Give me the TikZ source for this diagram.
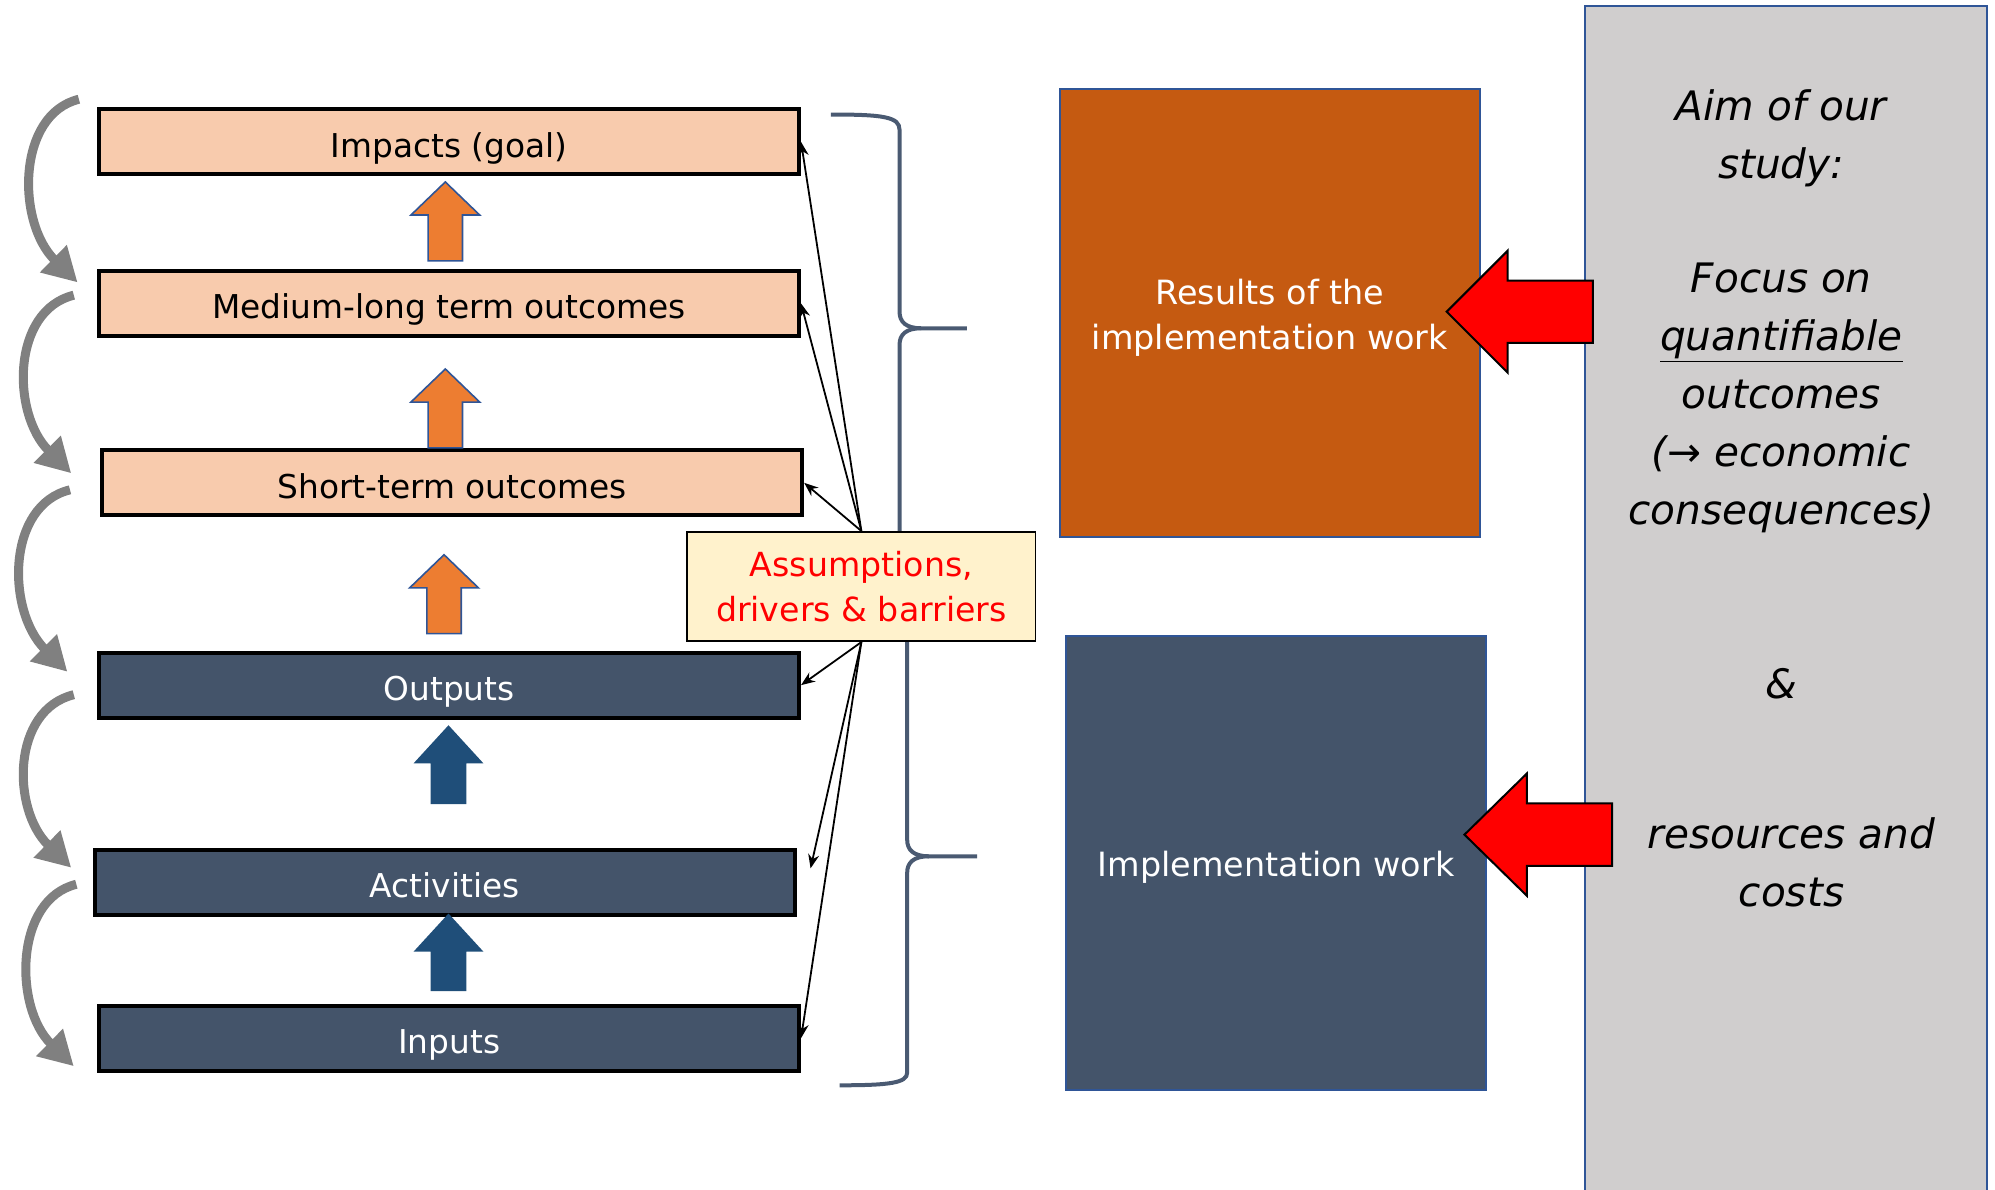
\documentclass[tikz,border=0pt]{standalone}
\usepackage{fontspec}
\setmainfont{DejaVu Sans}
\usetikzlibrary{arrows.meta,calc}
\definecolor{peach}{HTML}{F8CBAD}
\definecolor{slate}{HTML}{44546A}
\definecolor{orarrow}{HTML}{ED7D31}
\definecolor{blarrow}{HTML}{1F4E79}
\definecolor{resbox}{HTML}{C55A11}
\definecolor{panelgray}{HTML}{D0CECE}
\definecolor{assumfill}{HTML}{FFF2CC}
\definecolor{edgeblue}{HTML}{2F5597}
\definecolor{bracecol}{HTML}{4A5A72}
\definecolor{curvegray}{HTML}{808080}
\def\uu{0.63615pt}
\begin{document}
\begin{tikzpicture}[x=0.63615pt,y=-0.63615pt,
  chainbox/.style={draw=black,line width=2pt,minimum width={550*\uu},minimum height={51*\uu},inner sep=0pt,text height=15.4pt,text depth=0pt,font=\fontsize{16.4pt}{20pt}\selectfont},
  lightbox/.style={chainbox,fill=peach,text=black},
  darkbox/.style={chainbox,fill=slate,text=white},
  orblk/.style={fill=orarrow,draw=edgeblue,line width=0.8pt},
  blblk/.style={fill=blarrow,draw=none},
  redblk/.style={fill=red,draw=black,line width=1pt},
  loopback/.style={draw=curvegray,line width=4.5pt,-{Triangle[length=17pt,width=18pt]}},
  thinarr/.style={draw=black,line width=0.9pt,-{Stealth[length=7pt,width=5.5pt]}},
  bracepath/.style={draw=bracecol,line width=2pt},
  bigbox/.style={draw=edgeblue,line width=0.9pt,text=white,inner sep=0pt,align=center,font=\fontsize{16.7pt}{22.3pt}\selectfont},
  paneltext/.style={align=center,inner sep=0pt,font=\fontsize{20.3pt}{29pt}\selectfont\itshape}
]
\useasboundingbox (0,0) rectangle (1568,935);

% braces (drawn first, box hides the join)
\draw[bracepath] (653,90) .. controls (695,90) and (707,92) .. (707,102) -- (707,245)
  .. controls (707,253) and (712,258) .. (724,258) -- (760,258);
\draw[bracepath] (724,258) .. controls (712,258) and (707,263) .. (707,271) -- (707,440);
\draw[bracepath] (713,480) -- (713,660) .. controls (713,668) and (718,673) .. (730,673) -- (768,673);
\draw[bracepath] (730,673) .. controls (718,673) and (713,678) .. (713,686) -- (713,843)
  .. controls (713,851) and (700,853) .. (660,853);

% left chain boxes
\node[lightbox] (imp) at (353,111.5) {Impacts (goal)};
\node[lightbox] (med) at (353,238.5) {Medium-long term outcomes};
\node[lightbox] (sho) at (355.5,379.5) {Short-term outcomes};
\node[darkbox] (out) at (353,538.5) {Outputs};
\node[darkbox] (act) at (349.5,693.5) {Activities};
\node[darkbox] (inp) at (353,816) {Inputs};

% upward block arrows
\draw[orblk] (350,143) -- (377,169) -- (363.5,169) -- (363.5,205) -- (336.5,205) -- (336.5,169) -- (323,169) -- cycle;
\draw[orblk] (350,290) -- (377,316) -- (363.5,316) -- (363.5,352) -- (336.5,352) -- (336.5,316) -- (323,316) -- cycle;
\draw[orblk] (349,436) -- (376,462) -- (362.5,462) -- (362.5,498) -- (335.5,498) -- (335.5,462) -- (322,462) -- cycle;
\draw[blblk] (352.5,570) -- (380,600) -- (366.5,600) -- (366.5,632) -- (338.5,632) -- (338.5,600) -- (325,600) -- cycle;
\draw[blblk] (352.5,718) -- (380,748) -- (366.5,748) -- (366.5,779) -- (338.5,779) -- (338.5,748) -- (325,748) -- cycle;

% gray loop arrows on the left
\coordinate (g1a) at (62,78);  \coordinate (g1b) at (61,222);
\coordinate (g2a) at (58,232); \coordinate (g2b) at (56,372);
\coordinate (g3a) at (55,385); \coordinate (g3b) at (53,528);
\coordinate (g4a) at (58,546); \coordinate (g4b) at (56,682);
\coordinate (g5a) at (60,695); \coordinate (g5b) at (58,838);
\draw[loopback] (g1a) .. controls (13,90) and (13,175) .. (g1b);
\draw[loopback] (g2a) .. controls (9,244) and (9,325) .. (g2b);
\draw[loopback] (g3a) .. controls (5,397) and (5,480) .. (g3b);
\draw[loopback] (g4a) .. controls (9,558) and (9,636) .. (g4b);
\draw[loopback] (g5a) .. controls (11,707) and (11,792) .. (g5b);

% assumptions box
\node[draw=black,line width=0.8pt,fill=assumfill,text=red,align=center,inner sep=0pt,
      minimum width={274*\uu},minimum height={86*\uu},
      font=\fontsize{16.6pt}{22.3pt}\selectfont] (as) at (677,461) {Assumptions,\\drivers \& barriers};
\coordinate (actpt) at ($(act.east)+(11,-11)$);
\draw[thinarr] (as.north) -- (imp.east);
\draw[thinarr] (as.north) -- (med.east);
\draw[thinarr] (as.north) -- (sho.east);
\draw[thinarr] (as.south) -- (out.east);
\draw[thinarr] (as.south) -- (actpt);
\draw[thinarr] (as.south) -- (inp.east);

% right side boxes
\node[bigbox,fill=resbox,minimum width={330*\uu},minimum height={352*\uu}] (res) at (998,246) {};
\node[text=white,align=center,inner sep=0pt,font=\fontsize{16.7pt}{22.3pt}\selectfont] (restext) at (998,250) {Results of the\\implementation work};
\node[bigbox,fill=slate,minimum width={330*\uu},minimum height={357*\uu}] (imw) at (1003,678.5) {};
\node[text=white,inner sep=0pt,font=\fontsize{16.7pt}{22.3pt}\selectfont] (imwtext) at (1003,681.5) {Implementation work};

% gray panel
\path[fill=panelgray,draw=edgeblue,line width=0.9pt] (1246,5) rectangle (1562,945);
\node[paneltext] (aim) at (1400,109) {Aim of our\\study:};
\node[paneltext] (focus) at (1400,312.5) {Focus on\\\underline{quantifiable}\\outcomes\\(→ economic\\consequences)};
\node[paneltext] (amp) at (1400,537) {\&};
\node[paneltext] (resc) at (1408,677.5) {resources and\\costs};

% red block arrows
\draw[redblk] (1137,245) -- (1185,197) -- (1185,220.5) -- (1252,220.5) -- (1252,269.5) -- (1185,269.5) -- (1185,293) -- cycle;
\draw[redblk] (1151,656) -- (1200,608) -- (1200,631.5) -- (1267,631.5) -- (1267,680.5) -- (1200,680.5) -- (1200,704) -- cycle;
\end{tikzpicture}
\end{document}
